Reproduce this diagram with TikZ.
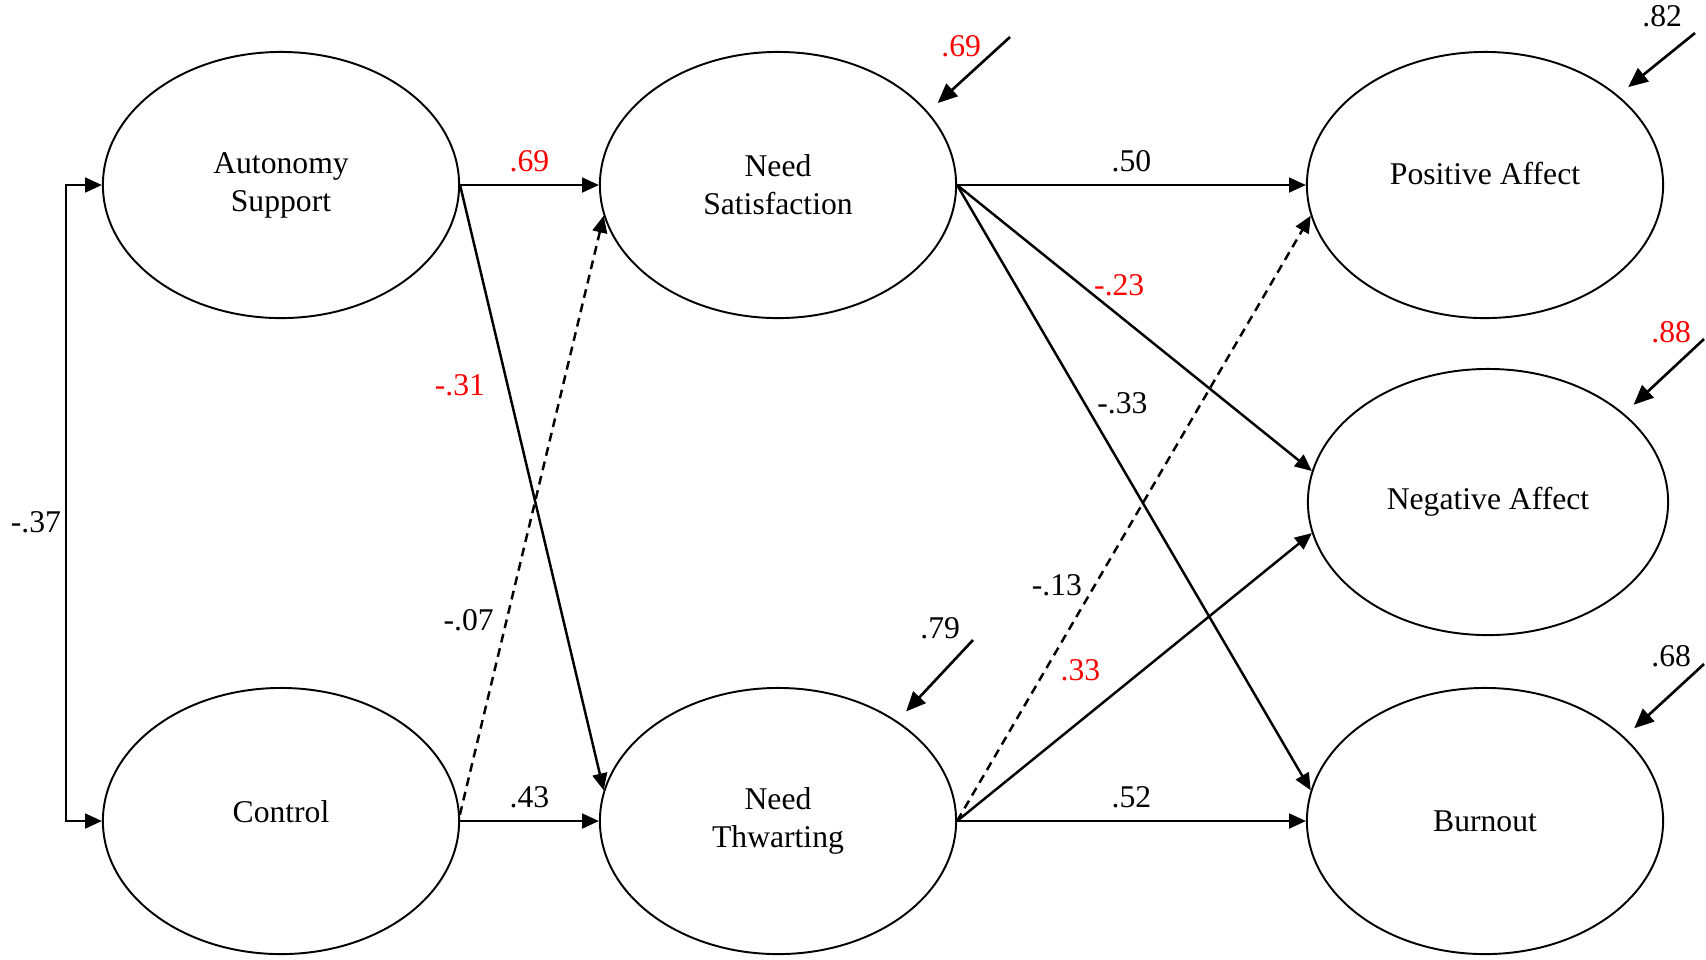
\documentclass[tikz,border=0pt]{standalone}
\usepackage{fontspec}
\setmainfont{Liberation Serif}
\usetikzlibrary{arrows.meta,shapes.geometric,calc}
\tikzset{
    latent/.style = {ellipse,
                    fill=white,
                    draw=black,
                    text=black,
                    line width=0.55pt,
                    align=center,
                    inner sep=0pt,
                    minimum width=3.56cm,
                    minimum height=2.66cm,
                    font=\fontsize{9}{10.8}\selectfont},
    reg/.style =    {->,
                    line width=0.7pt},
    regdash/.style = {reg,
                    dash pattern=on 2.5pt off 1.7pt},
    resid/.style =  {->,
                    line width=0.75pt,
                    >={Triangle[length=5.6pt,width=4.8pt]},
                    shorten >= 0.13cm},
    coef/.style =   {text=black,
                    font=\fontsize{9}{10.8}\selectfont},
    coefred/.style = {coef,
                    text=red},
    >={Triangle[length=4.8pt,width=4.2pt]}}

\begin{document}
\begin{tikzpicture}[x=0.01cm,y=-0.01cm]
    \useasboundingbox (0,0) rectangle (1706,959);
    % latent variables
    \node[latent]   (AS) at (281,185)   {Autonomy\\Support};
    \node[latent, text depth=0.2cm] (CO) at (281,821) {Control};
    \node[latent]   (NS) at (778,185)   {Need\\Satisfaction};
    \node[latent]   (NT) at (778,821)   {Need\\Thwarting};
    \node[latent, text depth=0.24cm] (PA) at (1485,185) {Positive Affect};
    \node[latent, minimum width=3.6cm] (NA) at (1488,502) {Negative Affect};
    \node[latent]   (BO) at (1485,821)  {Burnout};
    % residual starts
    \coordinate (rNS) at (1010,37);
    \coordinate (rNT) at (973,640);
    \coordinate (rPA) at (1695,33);
    \coordinate (rNA) at (1704,339);
    \coordinate (rBO) at (1704,664);
    % correlation
    \draw [reg,<->] (AS.west) -- ++(-36,0) coordinate (cl)
        -- (cl |- CO.west) node [coef,left,pos=0.53,xshift=0.08cm] {-.37} -- (CO.west);
    % paths
    \path [reg] (AS.east) edge node [coefred,above] {.69} (NS.west)
                (AS.east) edge node [coefred,left=2.7pt,pos=0.33] {-.31} (NT.170)
                (CO.east) edge node [coef,above] {.43} (NT.west)
                (NS.east) edge node [coef,above] {.50} (PA.west)
                (NS.east) edge node [coefred,right,pos=0.35] {-.23} (NA.170)
                (NS.east) edge node [coef,right,pos=0.36] {-.33} (BO.170)
                (NT.east) edge node [coefred,above left,pos=0.44] {.33} (NA.190)
                (NT.east) edge node [coef,above] {.52} (BO.west);
    \path [regdash] (CO.2) edge node [coef,left,pos=0.325] {-.07} (NS.190)
                    (NT.east) edge node [coef,left,pos=0.39] {-.13} (PA.190);
    % residuals
    \path [resid] (rNS) edge node [coefred,pos=0,anchor=east,xshift=-0.16cm,yshift=-0.09cm] {.69} (NS.26)
                  (rNT) edge node [coef,pos=0,anchor=east,yshift=0.12cm] {.79} (NT.40)
                  (rPA) edge node [coef,pos=0,anchor=east,yshift=0.17cm] {.82} (PA.34)
                  (rNA) edge node [coefred,pos=0,anchor=east,yshift=0.07cm] {.88} (NA.33)
                  (rBO) edge node [coef,pos=0,anchor=east,yshift=0.08cm] {.68} (BO.31);
\end{tikzpicture}
\end{document}
